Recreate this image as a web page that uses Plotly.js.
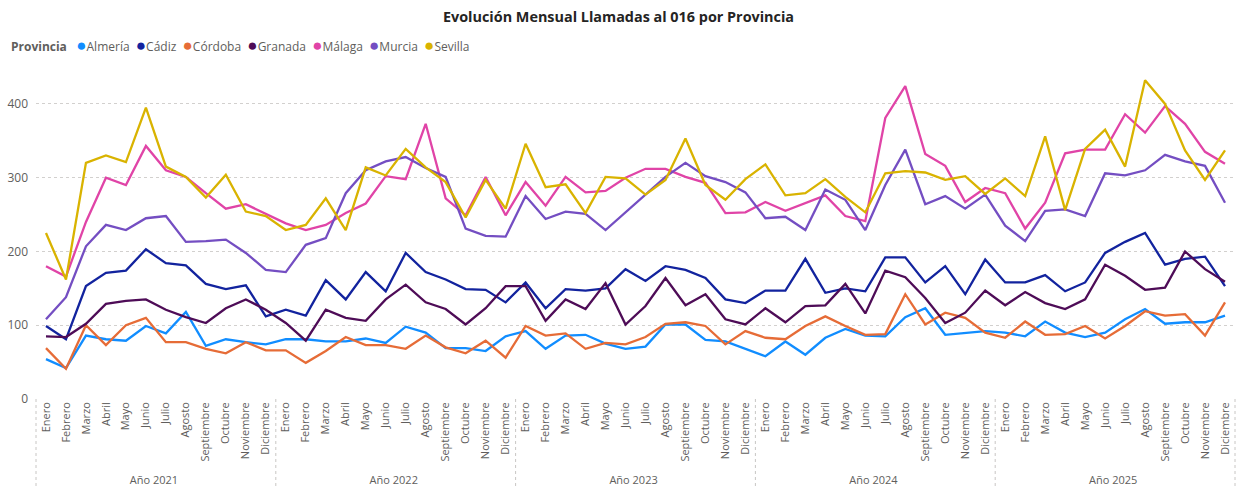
<!DOCTYPE html>
<html>
<head>
<meta charset="utf-8">
<script src="https://cdn.plot.ly/plotly-3.0.1.min.js"></script>
<style>
html,body{margin:0;padding:0;background:#fff;}
#chart{width:1237px;height:488px;}
</style>
</head>
<body>
<div id="chart"></div>
<script>
// Categories
const years = ['Año 2021','Año 2022','Año 2023','Año 2024','Año 2025'];
const months = ['Enero','Febrero','Marzo','Abril','Mayo','Junio','Julio','Agosto','Septiembre','Octubre','Noviembre','Diciembre'];

// Series (monthly calls, Jan 2021 - Dec 2025)
const almeria = [54,42,86,81,79,99,89,118,72,81,77,74, 81,81,78,78,82,76,98,90,69,69,65,85, 92,68,86,87,75,68,71,101,101,80,78,68, 58,78,60,83,95,86,85,111,123,87,90,92, 90,85,105,90,84,90,108,122,102,104,104,113];
const cadiz = [99,81,153,171,174,203,184,181,156,149,154,112, 121,113,161,135,172,146,198,172,162,149,148,131, 158,123,149,147,150,176,160,180,175,164,135,130, 147,147,190,144,150,146,192,192,158,180,142,189, 158,158,168,146,158,198,213,225,182,190,193,153];
const cordoba = [69,41,100,73,100,110,77,77,68,62,77,66, 66,49,65,84,73,73,68,86,70,62,79,56, 99,86,89,68,76,74,84,102,104,99,74,92, 83,81,99,112,99,87,88,142,101,117,110,90, 83,105,87,88,99,82,99,119,113,115,86,131];
const granada = [85,84,102,129,133,135,121,111,103,123,135,121, 103,79,121,110,106,135,155,131,122,101,123,153, 153,106,135,122,157,101,126,164,127,142,108,101, 123,104,126,127,156,116,174,165,137,103,117,147, 127,145,130,122,135,182,167,148,151,200,176,159];
const malaga = [180,166,240,300,290,343,310,301,279,258,264,251, 238,229,236,252,265,302,298,373,272,249,301,249, 294,262,301,280,282,300,312,312,301,293,252,253, 267,255,266,276,248,241,381,424,332,316,267,286, 279,231,266,333,338,338,386,361,397,373,335,319];
const murcia = [108,138,207,236,229,245,248,213,214,216,198,175, 172,209,218,279,310,322,328,313,301,231,221,220, 275,244,254,251,229,253,277,301,320,302,294,280, 245,247,229,284,270,229,290,338,264,275,258,277, 235,214,255,257,248,306,303,310,331,322,316,266];
const sevilla = [225,162,320,330,321,395,315,301,273,304,254,248, 229,236,272,229,314,303,339,314,294,246,297,258, 346,287,291,252,301,299,277,297,353,290,270,298, 318,276,279,298,274,253,306,309,307,297,302,278, 299,275,356,256,339,365,315,432,400,337,297,337];

const seriesNames = ['Almería','Cádiz','Córdoba','Granada','Málaga','Murcia','Sevilla'];
const seriesValues = [almeria,cadiz,cordoba,granada,malaga,murcia,sevilla];
const seriesColors = ['#118DFF','#12239E','#E66C37','#4E0C57','#E044A7','#744EC2','#D9B300'];

// Build multicategory x
const xYears = [], xMonths = [];
years.forEach(y => months.forEach(m => { xYears.push(y); xMonths.push(m); }));

const traces = seriesNames.map((n,i) => ({
  type:'scatter', mode:'lines', name:n,
  x:[xYears,xMonths], y:seriesValues[i],
  line:{color:seriesColors[i], width:2.3},
  hoverinfo:'skip', showlegend:false
}));

// Legend as rich text annotation
let legendText = '<b>Provincia</b>\u00a0\u00a0\u00a0';
seriesNames.forEach((n,i) => {
  legendText += '<span style="color:'+seriesColors[i]+';font-size:17px">●</span>' + n + (i < seriesNames.length-1 ? '\u00a0\u00a0' : '');
});

const W = 1237, H = 488;
const mL = 35.5, mR = 1.5, mT = 66.5, mB = 88.5;
const plotH = H - mT - mB, plotW = W - mL - mR;

const shapes = [];
for (let k = 0; k <= years.length; k++) {
  shapes.push({type:'line', xref:'paper', yref:'paper', x0:k/years.length, x1:k/years.length,
    y0:0, y1:-mB/plotH, line:{color:'#C8C6C4', width:1, dash:'dot'}});
}

const layout = {
  width:W, height:H, autosize:false,
  margin:{l:mL, r:mR, t:mT, b:mB, pad:0},
  paper_bgcolor:'#fff', plot_bgcolor:'#fff',
  font:{family:'"Open Sans", "Noto Sans", sans-serif', color:'#605E5C', size:12},
  title:{text:'<b>Evolución Mensual Llamadas al 016 por Provincia</b>', x:0.5, xanchor:'center', y:1-17/H, yanchor:'middle', yref:'container',
    font:{family:'"Open Sans", sans-serif', size:14.4, color:'#252423'}},
  showlegend:false,
  xaxis:{type:'multicategory', range:[-0.5, 59.5], tickangle:-90, showgrid:false, zeroline:false, showline:false,
    showdividers:false, tickfont:{size:11, color:'#605E5C'}, ticks:'', fixedrange:true},
  yaxis:{range:[0,450], tickvals:[0,100,200,300,400], showgrid:true, gridcolor:'#D2D0CE', griddash:'dot', gridwidth:1,
    zeroline:false, showline:false, ticks:'', ticklabelstandoff:7, tickfont:{size:12, color:'#605E5C'}},
  shapes:shapes,
  annotations:[{xref:'paper', yref:'paper', x:(8-mL)/plotW, y:1+(mT-43.5)/plotH, xanchor:'left', yanchor:'middle',
    showarrow:false, text:legendText, font:{size:12, color:'#605E5C', family:'"Open Sans", sans-serif'}, align:'left'}]
};

Plotly.newPlot('chart', traces, layout, {displayModeBar:false, staticPlot:true});
</script>
</body>
</html>
